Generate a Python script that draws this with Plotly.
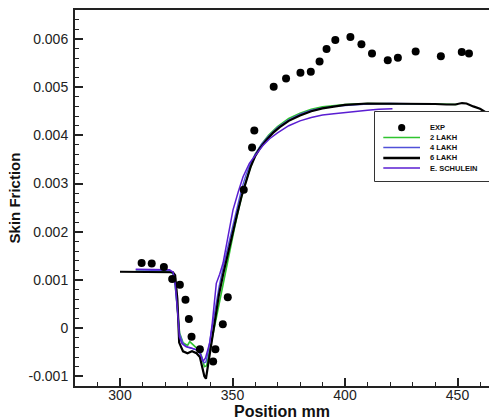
import plotly.graph_objects as go

# ---------------- data ----------------
exp_x = [309.6, 314.1, 319.5, 323.2, 326.6, 329.1, 330.6, 331.8, 335.5, 341.4, 342.4, 345.7,
         347.9, 355.0, 358.7, 359.7, 368.3, 373.8, 380.2, 384.8, 388.7, 391.8, 395.7, 402.4,
         407.3, 412.0, 419.0, 423.5, 431.4, 442.6, 451.9, 455.1]
exp_y = [0.00135, 0.00134, 0.00127, 0.00102, 0.00090, 0.00059, 0.00019, -0.00018, -0.00044,
         -0.00069, -0.00044, 0.00008, 0.00064, 0.00287, 0.00375, 0.00410, 0.00501, 0.00518,
         0.00530, 0.00532, 0.00553, 0.00579, 0.00598, 0.00604, 0.00589, 0.00570, 0.00556,
         0.00561, 0.00574, 0.00564, 0.00573, 0.00570]

lakh2_x = [307, 315, 322, 323.5, 324.5, 325.5, 326.5, 328, 330, 331, 332.5, 334, 335.5, 336.5,
           337.5, 338.5, 339.5, 341, 343, 345, 347, 349, 351, 353, 355, 357, 360, 363, 366,
           370, 375, 380, 385, 390, 395, 400, 410, 420, 430, 440, 450]
lakh2_y = [0.00118, 0.00118, 0.00117, 0.00113, 0.00090, 0.00040, -0.00010, -0.00030, -0.00036,
           -0.00028, -0.00035, -0.00042, -0.00048, -0.00062, -0.00080, -0.00078, -0.00055,
           -0.00020, 0.00030, 0.00078, 0.00122, 0.00165, 0.00210, 0.00252, 0.00290, 0.00320,
           0.00360, 0.00382, 0.00400, 0.00418, 0.00435, 0.00446, 0.00454, 0.00459, 0.00462,
           0.00464, 0.00466, 0.00466, 0.00466, 0.00465, 0.00464]

lakh4_x = [307, 315, 322, 323.5, 324.5, 325.5, 326.5, 328, 330, 332, 334, 335.5, 336.5, 337.3,
           338.2, 339.2, 340.5, 342, 344, 346, 348, 350, 352, 354, 356, 358, 360, 363, 366,
           370, 375, 380, 385, 390, 395, 400, 410, 420, 430, 440]
lakh4_y = [0.00121, 0.00120, 0.00119, 0.00114, 0.00090, 0.00040, -0.00012, -0.00032, -0.00040,
           -0.00042, -0.00045, -0.00052, -0.00065, -0.00072, -0.00070, -0.00048, -0.00010,
           0.00035, 0.00085, 0.00130, 0.00170, 0.00212, 0.00252, 0.00288, 0.00318, 0.00342,
           0.00360, 0.00382, 0.00398, 0.00416, 0.00432, 0.00444, 0.00452, 0.00457, 0.00460,
           0.00462, 0.00465, 0.00466, 0.00466, 0.00465]

lakh6_x = [300, 310, 320, 323.5, 324.5, 325.5, 326.3, 328, 330, 332, 334, 335.5, 336.5, 337.5,
           338.2, 339, 340, 342, 344, 346, 348, 350, 352, 354, 356, 358, 360, 362, 365, 368,
           371, 375, 380, 385, 390, 395, 400, 410, 420, 430, 440, 445, 449, 452, 454, 457,
           460, 462.5, 465]
lakh6_y = [0.00117, 0.00117, 0.00117, 0.00116, 0.00110, 0.00060, -0.00030, -0.00048, -0.00052,
           -0.00048, -0.00052, -0.00060, -0.00080, -0.00100, -0.00105, -0.00080, -0.00045,
           0.00014, 0.00070, 0.00115, 0.00157, 0.00195, 0.00235, 0.00273, 0.00305, 0.00334,
           0.00356, 0.00372, 0.00390, 0.00405, 0.00417, 0.00430, 0.00441, 0.00450, 0.00456,
           0.00460, 0.00463, 0.00466, 0.00466, 0.00466, 0.00465, 0.00464, 0.00464, 0.00467,
           0.00466, 0.00460, 0.00455, 0.00448, 0.00445]

schulein_x = [307, 315, 322, 323.6, 324.6, 325.5, 326.4, 327.5, 329.2, 331, 332.5, 334, 335.5,
              336.9, 338, 339.9, 341, 342.8, 344.3, 345.8, 348, 350.2, 352.5, 354.7, 357.5,
              360.6, 363.5, 366.5, 370, 375, 380, 385, 390, 395, 400.4, 405, 410, 415, 421.1]
schulein_y = [0.00122, 0.00122, 0.00121, 0.00116, 0.00090, 0.00040, -0.00018, -0.00032,
              -0.00038, -0.00040, -0.00042, -0.00045, -0.00050, -0.00069, -0.00062, -0.00030,
              0.00010, 0.00093, 0.00112, 0.00135, 0.00190, 0.00245, 0.00282, 0.00314, 0.00342,
              0.00362, 0.00379, 0.00393, 0.00405, 0.00420, 0.00430, 0.00437, 0.00442, 0.00445,
              0.00448, 0.00450, 0.00452, 0.00454, 0.00455]

y_tickvals = [-0.001, 0, 0.001, 0.002, 0.003, 0.004, 0.005, 0.006]
y_ticktext = ["-0.001", "0", "0.001", "0.002", "0.003", "0.004", "0.005", "0.006"]
x_tickvals = [300, 350, 400, 450]
x_ticktext = ["300", "350", "400", "450"]

legend_names = ["EXP", "2 LAKH", "4 LAKH", "6 LAKH", "E. SCHULEIN"]

# ---------------- styles ----------------
FONT = "Liberation Sans, Arial, sans-serif"
C_GREEN = "#2fc42f"
C_BLUE = "#5050d8"
C_BLACK = "#000000"
C_PURPLE = "#5a1ed2"

fig = go.Figure()
fig.add_trace(go.Scatter(x=lakh2_x, y=lakh2_y, mode="lines", name="2 LAKH",
                         line=dict(color=C_GREEN, width=1.6)))
fig.add_trace(go.Scatter(x=lakh4_x, y=lakh4_y, mode="lines", name="4 LAKH",
                         line=dict(color=C_BLUE, width=1.4)))
fig.add_trace(go.Scatter(x=lakh6_x, y=lakh6_y, mode="lines", name="6 LAKH",
                         line=dict(color=C_BLACK, width=2.2)))
fig.add_trace(go.Scatter(x=schulein_x, y=schulein_y, mode="lines", name="E. SCHULEIN",
                         line=dict(color=C_PURPLE, width=1.5)))
fig.add_trace(go.Scatter(x=exp_x, y=exp_y, mode="markers", name="EXP",
                         marker=dict(color="black", size=8, symbol="circle")))

# ---------------- manual legend (paper coords) ----------------
# plot area: x 75..489 px, y 10..386 px
def px(xp):
    return (xp - 75) / 414.0

def py(yp):
    return (386 - yp) / 376.0

shapes = [dict(type="rect", xref="paper", yref="paper", x0=px(374.5), x1=px(495),
               y0=py(181.5), y1=py(111.5), line=dict(color="#333333", width=1),
               fillcolor="white", layer="above")]
entry_y = [127.7, 137.5, 147.5, 158.0, 168.0]
entry_style = [None, (C_GREEN, 1.6), (C_BLUE, 1.4), (C_BLACK, 2.4), (C_PURPLE, 1.5)]
annotations = []
for name, yy, st in zip(legend_names, entry_y, entry_style):
    if st is None:
        shapes.append(dict(type="circle", xref="paper", yref="paper",
                           x0=px(401.7 - 3.6), x1=px(401.7 + 3.6),
                           y0=py(yy + 3.6), y1=py(yy - 3.6),
                           fillcolor="black", line=dict(color="black", width=0),
                           layer="above"))
    else:
        shapes.append(dict(type="line", xref="paper", yref="paper", x0=px(383.3), x1=px(420),
                           y0=py(yy), y1=py(yy), line=dict(color=st[0], width=st[1]),
                           layer="above"))
    annotations.append(dict(text="<b>%s</b>" % name, xref="paper", yref="paper",
                            x=px(428), y=py(yy), xanchor="left", yanchor="middle",
                            showarrow=False, font=dict(family=FONT, size=7.5, color="#111")))

fig.update_layout(
    width=489, height=420,
    margin=dict(l=75, r=0, t=10, b=34),
    paper_bgcolor="white", plot_bgcolor="white",
    showlegend=False,
    font=dict(family=FONT, color="#222"),
    shapes=shapes,
    annotations=annotations,
)
fig.update_xaxes(
    range=[280, 464], showgrid=False, zeroline=False,
    showline=True, linecolor="#222", linewidth=2, mirror=True,
    tickmode="array", tickvals=x_tickvals, ticktext=x_ticktext,
    ticks="inside", ticklen=8, tickwidth=1.5, tickcolor="#222",
    ticklabelstandoff=-5,
    tickfont=dict(family=FONT, size=14, color="#222"),
    minor=dict(ticks="inside", ticklen=4, tickwidth=1, tickcolor="#222", dtick=10, tick0=0,
               showgrid=False),
    title=dict(text="<b>Position mm</b>", font=dict(family=FONT, size=16, color="#111"),
               standoff=7),
)
fig.update_yaxes(
    range=[-0.0012, 0.0066], showgrid=False, zeroline=False,
    showline=True, linecolor="#222", linewidth=2, mirror=False,
    tickmode="array", tickvals=y_tickvals, ticktext=y_ticktext,
    ticks="inside", ticklen=8, tickwidth=1.5, tickcolor="#222",
    ticklabelstandoff=2,
    tickfont=dict(family=FONT, size=14, color="#222"),
    minor=dict(ticks="inside", ticklen=4, tickwidth=1, tickcolor="#222", dtick=0.0002,
               tick0=0, showgrid=False),
    title=dict(text="<b>Skin Friction</b>", font=dict(family=FONT, size=15, color="#111"),
               standoff=4),
)

fig.write_html("out.html", config={"displayModeBar": False},
               post_script="document.body.style.margin='0';document.body.style.padding='0';")
